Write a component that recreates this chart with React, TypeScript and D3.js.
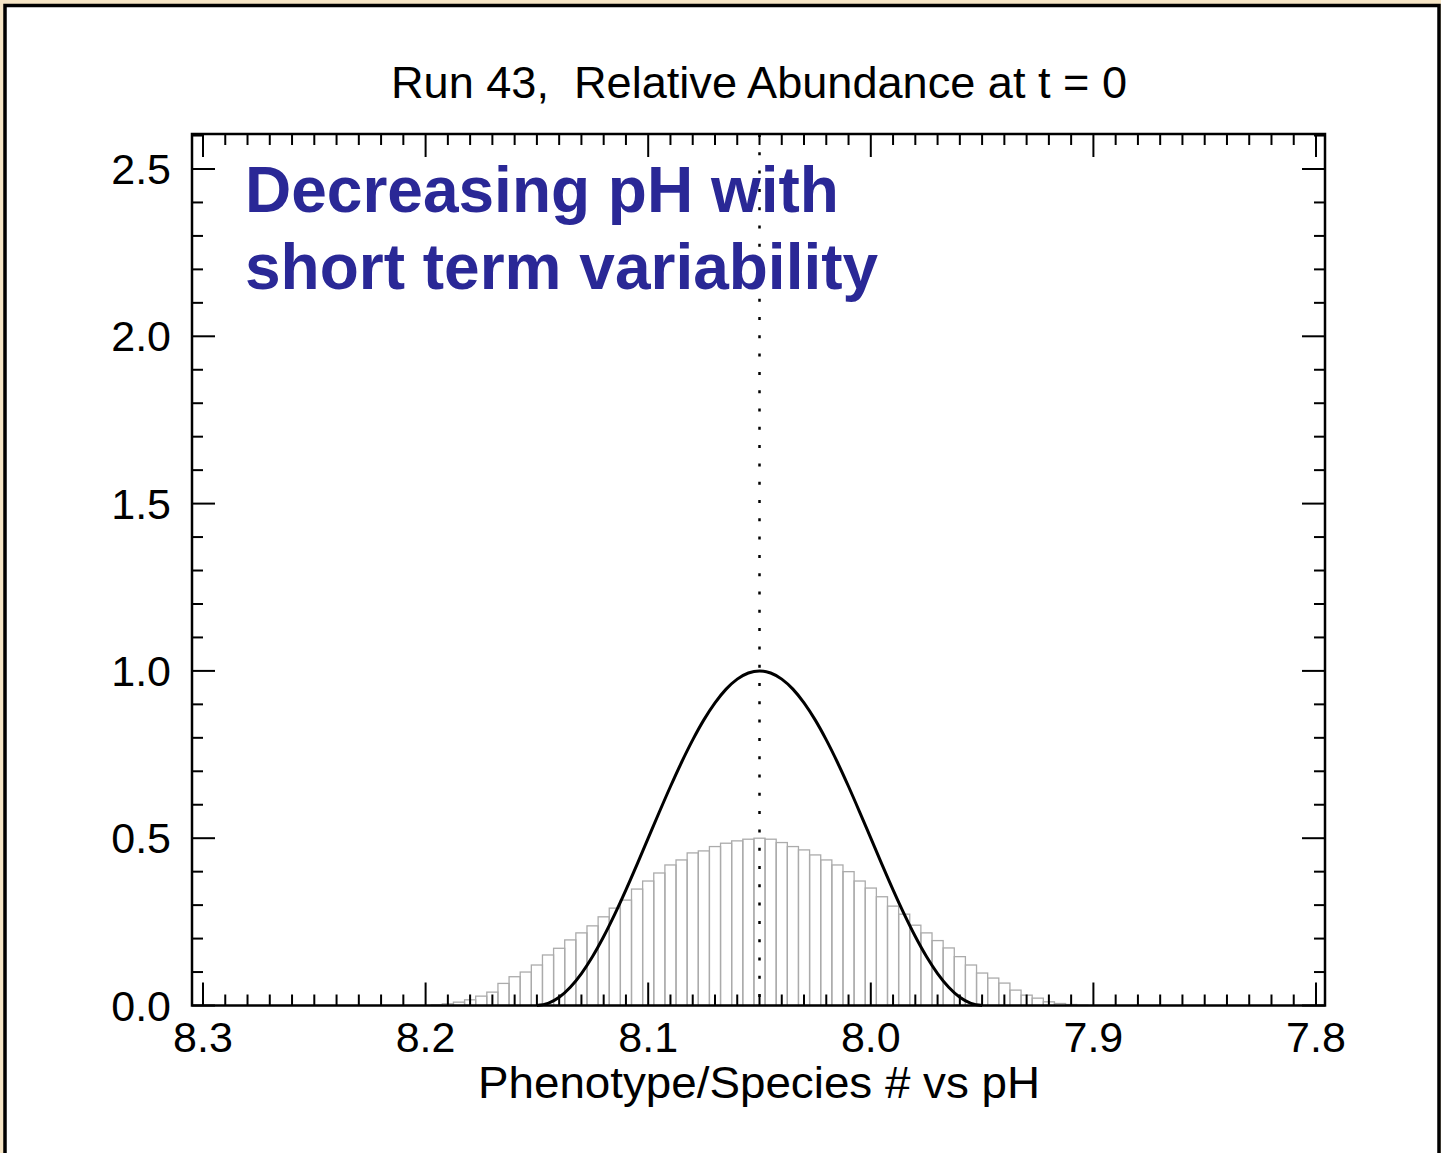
import React from "react";
import * as d3 from "d3";

const TITLE = "Run 43,  Relative Abundance at t = 0";
const X_LABEL = "Phenotype/Species # vs pH";
const NOTE_LINES = ["Decreasing pH with", "short term variability"];

const X_MAJOR = [8.3, 8.2, 8.1, 8.0, 7.9, 7.8];
const X_MAJOR_LABELS = ["8.3", "8.2", "8.1", "8.0", "7.9", "7.8"];
const Y_MAJOR = [0, 0.5, 1.0, 1.5, 2.0, 2.5];
const Y_MAJOR_LABELS = ["0.0", "0.5", "1.0", "1.5", "2.0", "2.5"];

// histogram bin centres (pH) and relative abundance
const BIN_PH = [
  8.195, 8.19, 8.185, 8.18, 8.175, 8.17, 8.165, 8.16, 8.155, 8.15,
  8.145, 8.14, 8.135, 8.13, 8.125, 8.12, 8.115, 8.11, 8.105, 8.1,
  8.095, 8.09, 8.085, 8.08, 8.075, 8.07, 8.065, 8.06, 8.055, 8.05,
  8.045, 8.04, 8.035, 8.03, 8.025, 8.02, 8.015, 8.01, 8.005, 8.0,
  7.995, 7.99, 7.985, 7.98, 7.975, 7.97, 7.965, 7.96, 7.955, 7.95,
  7.945, 7.94, 7.935, 7.93, 7.925, 7.92, 7.915, 7.91, 7.905,
];
const BIN_VALUE = [
  0.002, 0.005, 0.010, 0.017, 0.028, 0.040, 0.066, 0.086, 0.100, 0.121,
  0.151, 0.171, 0.196, 0.217, 0.238, 0.265, 0.291, 0.315, 0.348, 0.372,
  0.396, 0.420, 0.435, 0.456, 0.462, 0.475, 0.485, 0.492, 0.497, 0.500,
  0.497, 0.487, 0.475, 0.465, 0.450, 0.435, 0.420, 0.400, 0.372, 0.351,
  0.325, 0.297, 0.273, 0.240, 0.217, 0.194, 0.172, 0.146, 0.121, 0.097,
  0.082, 0.067, 0.046, 0.031, 0.022, 0.011, 0.006, 0.003, 0.001,
];
const BIN_WIDTH = 0.005;

// black curve (pH, value)
const CURVE_PH = [
  8.15, 8.145, 8.14, 8.135, 8.13, 8.125, 8.12, 8.115, 8.11, 8.105, 8.1,
  8.095, 8.09, 8.085, 8.08, 8.075, 8.07, 8.065, 8.06, 8.055, 8.05,
  8.045, 8.04, 8.035, 8.03, 8.025, 8.02, 8.015, 8.01, 8.005, 8.0,
  7.995, 7.99, 7.985, 7.98, 7.975, 7.97, 7.965, 7.96, 7.955, 7.95,
];
const CURVE_VALUE = [
  0, 0.0062, 0.0245, 0.0545, 0.0955, 0.1464, 0.2061, 0.273, 0.3455, 0.4218, 0.5,
  0.5782, 0.6545, 0.727, 0.7939, 0.8536, 0.9045, 0.9455, 0.9755, 0.9938, 1.0,
  0.9938, 0.9755, 0.9455, 0.9045, 0.8536, 0.7939, 0.727, 0.6545, 0.5782, 0.5,
  0.4218, 0.3455, 0.273, 0.2061, 0.1464, 0.0955, 0.0545, 0.0245, 0.0062, 0,
];
const CENTER_PH = 8.05;

const W = 1441;
const H = 1153;
const FRAME = { left: 192, right: 1325, top: 134, bottom: 1005.5 };
const FONT = "'Liberation Sans', Arial, Helvetica, sans-serif";

export default function App() {
  const x = d3.scaleLinear().domain([8.3, 7.8]).range([203, 1316]);
  const y = d3.scaleLinear().domain([0, 2.5]).range([1005.5, 169]);

  const xMinor = d3.range(0, 51).map((i) => 8.3 - i * 0.01);
  const yMinor = d3.range(0, 27).map((i) => i * 0.1);

  const line = d3
    .line<number>()
    .x((_, i) => x(CURVE_PH[i]))
    .y((d) => y(d))
    .curve(d3.curveMonotoneX);

  const majL = 23;
  const minL = 11;

  return (
    <svg
      width={W}
      height={H}
      style={{ position: "absolute", left: 0, top: 0, display: "block" }}
    >
      <rect x={0} y={0} width={W} height={H} fill="#f6e5c5" />
      <rect x={5} y={5.5} width={1434} height={H + 20} fill="#ffffff" stroke="#000" strokeWidth={3.5} />

      {/* histogram */}
      <g>
        {BIN_PH.map((p, i) => {
          const x0 = x(p + BIN_WIDTH / 2);
          const x1 = x(p - BIN_WIDTH / 2);
          return (
            <rect
              key={i}
              x={x0}
              y={y(BIN_VALUE[i])}
              width={x1 - x0}
              height={y(0) - y(BIN_VALUE[i])}
              fill="none"
              stroke="#ababab"
              strokeWidth={1.3}
            />
          );
        })}
      </g>

      {/* curve */}
      <path d={line(CURVE_VALUE) || ""} fill="none" stroke="#000" strokeWidth={3} />

      {/* dotted centre line */}
      <line
        x1={x(CENTER_PH)}
        x2={x(CENTER_PH)}
        y1={FRAME.top}
        y2={FRAME.bottom}
        stroke="#000"
        strokeWidth={2.5}
        strokeDasharray="3 15.3"
      />

      {/* frame */}
      <rect
        x={FRAME.left}
        y={FRAME.top}
        width={FRAME.right - FRAME.left}
        height={FRAME.bottom - FRAME.top}
        fill="none"
        stroke="#000"
        strokeWidth={2.5}
      />

      {/* ticks */}
      <g stroke="#000" strokeWidth={2}>
        {xMinor.map((v, i) => {
          const len = i % 10 === 0 ? majL : minL;
          const px = x(v);
          return (
            <g key={i}>
              <line x1={px} x2={px} y1={FRAME.bottom} y2={FRAME.bottom - len} />
              <line x1={px} x2={px} y1={FRAME.top} y2={FRAME.top + len} />
            </g>
          );
        })}
        {yMinor.map((v, i) => {
          const len = i % 5 === 0 ? majL : minL;
          const py = y(v);
          return (
            <g key={"y" + i}>
              <line x1={FRAME.left} x2={FRAME.left + len} y1={py} y2={py} />
              <line x1={FRAME.right} x2={FRAME.right - len} y1={py} y2={py} />
            </g>
          );
        })}
      </g>

      {/* tick labels */}
      <g fontFamily={FONT} fontSize={43} fill="#000">
        {X_MAJOR.map((v, i) => (
          <text key={i} x={x(v)} y={1052} textAnchor="middle">
            {X_MAJOR_LABELS[i]}
          </text>
        ))}
        {Y_MAJOR.map((v, i) => (
          <text key={i} x={171} y={y(v) + 15} textAnchor="end">
            {Y_MAJOR_LABELS[i]}
          </text>
        ))}
      </g>

      <text
        x={391}
        y={98}
        fontFamily={FONT}
        fontSize={44}
        fill="#000"
        style={{ whiteSpace: "pre" }}
        textLength={736}
        lengthAdjust="spacingAndGlyphs"
      >
        {TITLE}
      </text>
      <text
        x={478}
        y={1098}
        fontFamily={FONT}
        fontSize={44}
        fill="#000"
        textLength={562}
        lengthAdjust="spacingAndGlyphs"
      >
        {X_LABEL}
      </text>

      <g fontFamily={FONT} fontSize={64} fontWeight="bold" fill="#2a2896">
        {NOTE_LINES.map((t, i) => (
          <text key={i} x={245} y={212 + i * 77}>
            {t}
          </text>
        ))}
      </g>
    </svg>
  );
}
